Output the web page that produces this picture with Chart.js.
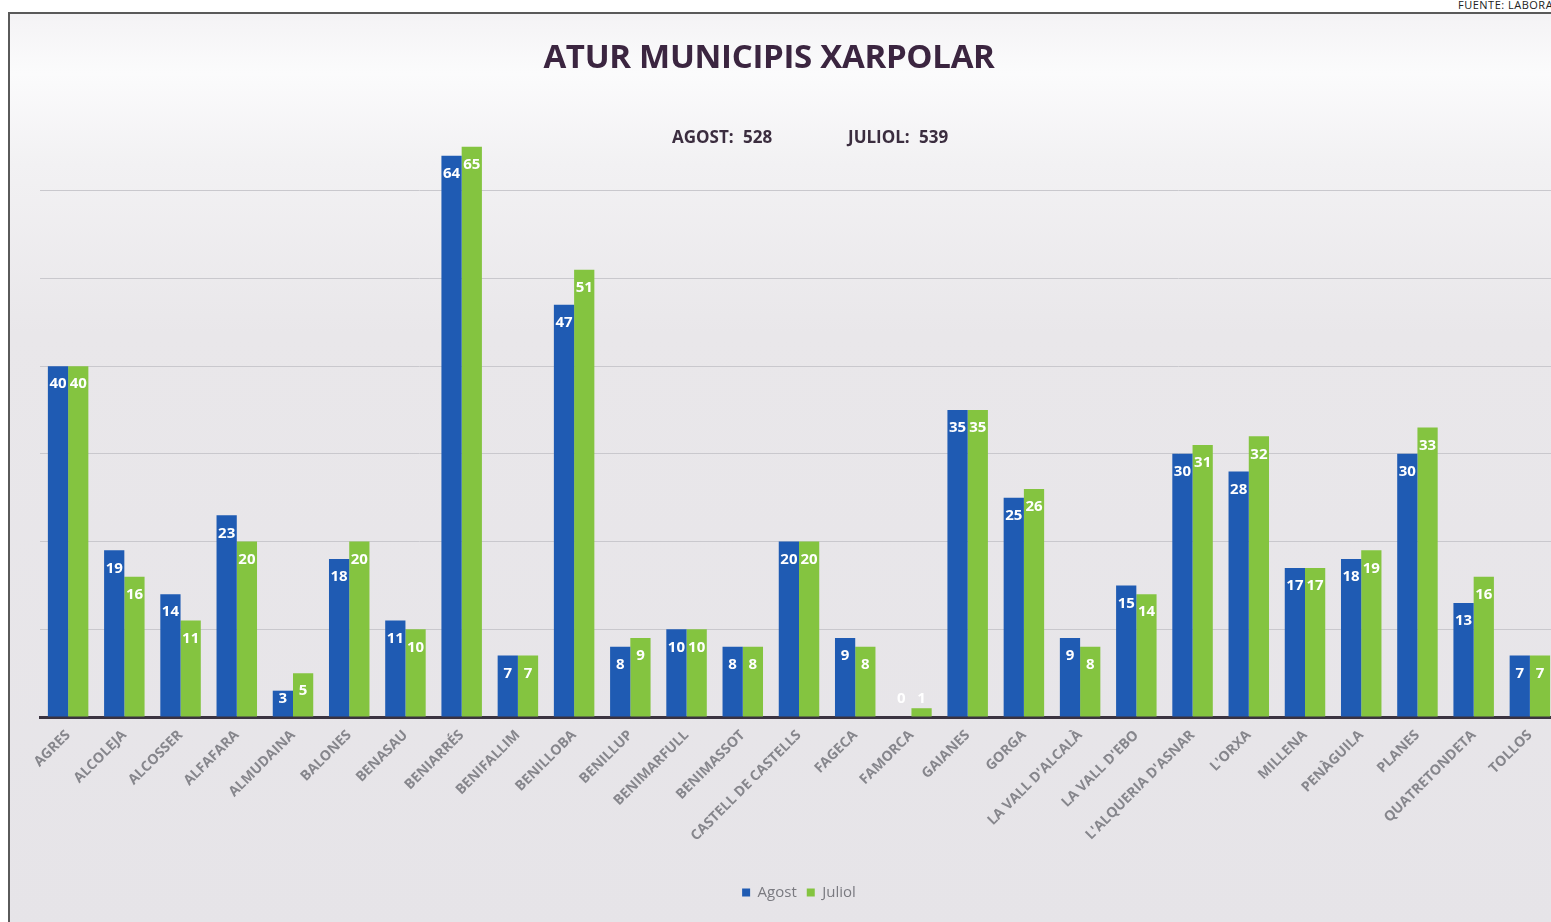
<!DOCTYPE html>
<html>
<head>
<meta charset="utf-8">
<script src="https://cdn.jsdelivr.net/npm/chart.js@4"></script>
<style>
  html, body { margin: 0; padding: 0; width: 1551px; height: 922px; overflow: hidden; background: #fff; font-family: 'Open Sans', sans-serif; }
  #fuente { position: absolute; left: 1458px; top: -3px; font-size: 11px; color: #222; white-space: nowrap; letter-spacing: 0.5px; }
  #marco { position: absolute; left: 8px; top: 12px; width: 1570px; height: 920px;
    border-left: 2px solid #5a5a5a; border-top: 2px solid #5a5a5a;
    background: linear-gradient(180deg, #f4f3f5 0px, #fbfbfc 60px, #f2f1f3 150px, #e9e7ea 320px, #e6e4e8 920px); }
  #titulo { position: absolute; left: 0; width: 1538px; top: 33px; text-align: center; font-size: 33px; font-weight: 700; color: #3b2540; letter-spacing: -0.3px; }
  .total { position: absolute; top: 125px; font-size: 17px; font-weight: 700; color: #3b2d3f; word-spacing: 5px; }
  #wrap { position: absolute; left: 0; top: 0; width: 1570px; height: 922px; }
</style>
</head>
<body>
<div id="marco"></div>
<div id="fuente">FUENTE: LABORA</div>
<div id="wrap"><canvas id="chartAtur"></canvas></div>
<div id="titulo">ATUR MUNICIPIS XARPOLAR</div>
<div class="total" style="left:672px">AGOST: 528</div>
<div class="total" style="left:848px">JULIOL: 539</div>
<script>
const municipis = ["AGRES", "ALCOLEJA", "ALCOSSER", "ALFAFARA", "ALMUDAINA", "BALONES", "BENASAU",
    "BENIARRÉS", "BENIFALLIM", "BENILLOBA", "BENILLUP", "BENIMARFULL", "BENIMASSOT",
    "CASTELL DE CASTELLS", "FAGECA", "FAMORCA", "GAIANES", "GORGA", "LA VALL D'ALCALÀ",
    "LA VALL D'EBO", "L'ALQUERIA D'ASNAR", "L'ORXA", "MILLENA", "PENÀGUILA", "PLANES",
    "QUATRETONDETA", "TOLLOS"];

const aturAgost = [40, 19, 14, 23, 3, 18, 11, 64, 7, 47, 8, 10, 8, 20, 9, 0, 35, 25, 9, 15, 30, 28, 17, 18, 30, 13, 7];
const aturJuliol = [40, 16, 11, 20, 5, 20, 10, 65, 7, 51, 9, 10, 8, 20, 8, 1, 35, 26, 8, 14, 31, 32, 17, 19, 33, 16, 7];

const colorAgost = "#1f5bb3";
const colorJuliol = "#84c440";

// etiquetas blancas dentro de cada barra
const etiquetasBarras = {
    id: "etiquetasBarras",
    afterDatasetsDraw(chart) {
        const ctx = chart.ctx;
        const base = chart.scales.y.getPixelForValue(0);
        ctx.save();
        ctx.font = "bold 15px 'Open Sans', sans-serif";
        ctx.fillStyle = "#ffffff";
        ctx.textAlign = "center";
        ctx.textBaseline = "middle";
        chart.data.datasets.forEach((ds, i) => {
            chart.getDatasetMeta(i).data.forEach((bar, j) => {
                const y = Math.min(bar.y + 18, base - 18);
                ctx.fillText(String(ds.data[j]), bar.x, y);
            });
        });
        ctx.restore();
    }
};

Chart.defaults.font.family = "'Open Sans', sans-serif";

new Chart(document.getElementById("chartAtur"), {
    type: "bar",
    data: {
        labels: municipis,
        datasets: [
            { label: "Agost", data: aturAgost, backgroundColor: colorAgost },
            { label: "Juliol", data: aturJuliol, backgroundColor: colorJuliol }
        ]
    },
    options: {
        responsive: true,
        maintainAspectRatio: false,
        animation: false,
        datasets: { bar: { categoryPercentage: 0.72, barPercentage: 1.0 } },
        layout: { padding: { left: 40, right: 12, top: 103, bottom: 12 } },
        plugins: {
            legend: {
                position: "bottom",
                labels: { boxWidth: 8, boxHeight: 8, color: "#7a7a80", font: { size: 15 }, padding: 10 }
            },
            tooltip: { enabled: false }
        },
        scales: {
            x: {
                grid: { display: false },
                border: { display: true, color: "#3a3340", width: 3 },
                ticks: { minRotation: 45, maxRotation: 45, color: "#86868c", font: { size: 14, weight: "bold" }, padding: 2 },
                afterFit: (scale) => { scale.height = 158; }
            },
            y: {
                min: 0,
                max: 70,
                ticks: { display: false, stepSize: 10 },
                grid: {
                    color: (c) => c.tick && c.tick.value === 70 ? "rgba(0,0,0,0)" : "#c9c8cd",
                    drawTicks: false
                },
                border: { display: false }
            }
        }
    },
    plugins: [etiquetasBarras]
});
</script>
</body>
</html>
